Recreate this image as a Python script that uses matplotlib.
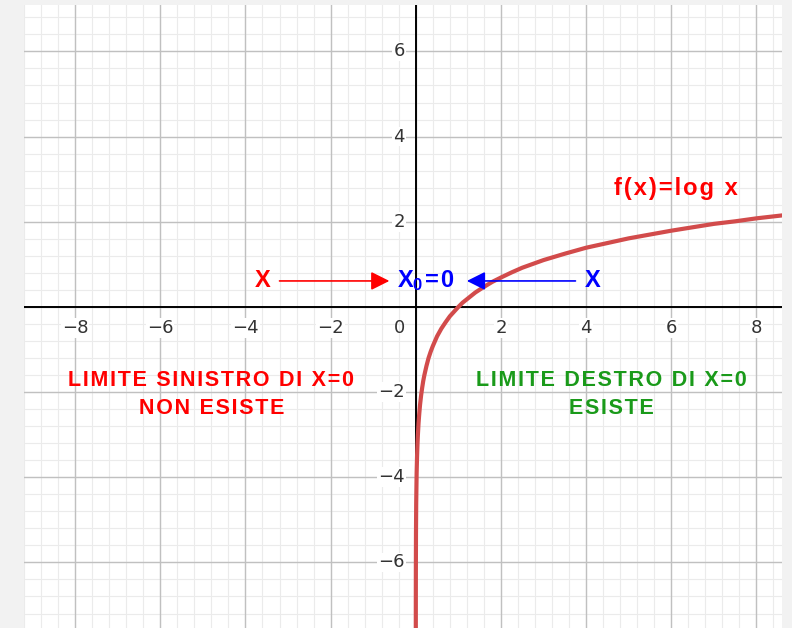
import matplotlib
matplotlib.use("Agg")
import matplotlib.pyplot as plt
import numpy as np

plt.rcParams['mathtext.fontset'] = 'custom'
plt.rcParams['mathtext.rm'] = 'Liberation Sans:bold'
plt.rcParams['mathtext.bf'] = 'Liberation Sans:bold'

# curve f(x)=log x
curve_x = [0.0005, 0.001, 0.002, 0.005, 0.01, 0.02, 0.03, 0.04, 0.05, 0.065,
           0.08, 0.1, 0.125, 0.15, 0.175, 0.2, 0.25, 0.3, 0.35, 0.4, 0.5,
           0.6, 0.7, 0.8, 0.9, 1.0, 1.1, 1.25, 1.4, 1.6, 1.8, 2.0, 2.25,
           2.5, 2.75, 3.0, 3.5, 4.0, 4.5, 5.0, 5.5, 6.0, 6.5, 7.0, 7.5,
           8.0, 8.7]
curve_y = [-7.60, -6.91, -6.21, -5.30, -4.61, -3.91, -3.51, -3.22, -3.00, -2.73,
           -2.53, -2.30, -2.08, -1.90, -1.74, -1.61, -1.39, -1.20, -1.05, -0.92, -0.69,
           -0.51, -0.36, -0.22, -0.11, 0.00, 0.10, 0.22, 0.34, 0.47, 0.59, 0.69, 0.81,
           0.92, 1.01, 1.10, 1.25, 1.39, 1.50, 1.61, 1.70, 1.79, 1.87, 1.95, 2.01,
           2.08, 2.16]

x_ticks = [-8, -6, -4, -2, 2, 4, 6, 8]
y_ticks = [-6, -4, -2, 2, 4, 6]

xmin, xmax = -9.2, 8.6
ymin, ymax = -7.54, 7.09

red = '#ff0000'
blue = '#0000ff'
green = '#1a9a1a'
curve_col = '#d24b4b'


def spaced(s):
    # a bit of letter spacing, like the original labels
    return '\u200a'.join(s)


fig = plt.figure(figsize=(7.92, 6.28), dpi=100, facecolor='#f2f2f2')
ax = fig.add_axes([24 / 792, 0, 758 / 792, 1 - 5 / 628])
ax.set_facecolor('white')
ax.set_xlim(xmin, xmax)
ax.set_ylim(ymin, ymax)
for s in ax.spines.values():
    s.set_visible(False)
ax.set_xticks([])
ax.set_yticks([])

# grid: minor every 0.4, major every 2
for v in np.arange(-10, 10.01, 0.4):
    ax.axvline(v, color='#ebebeb', lw=0.8, zorder=0)
    ax.axhline(v, color='#ebebeb', lw=0.8, zorder=0)
for v in range(-10, 11, 2):
    ax.axvline(v, color='#c0c0c0', lw=1.0, zorder=0.5)
    ax.axhline(v, color='#c0c0c0', lw=1.0, zorder=0.5)

# axes
ax.axhline(0, color='black', lw=1.4, zorder=2)
ax.axvline(0, color='black', lw=1.4, zorder=2)

tick_font = dict(fontsize=13, color='#333333', family='DejaVu Sans')
for v in x_ticks:
    ax.annotate('\u2212%d' % -v if v < 0 else str(v), (v, 0), xytext=(0, -15),
                textcoords='offset points', ha='center', va='center',
                bbox=dict(boxstyle='square,pad=0.05', fc='white', ec='none'),
                zorder=3, **tick_font)
for v in y_ticks:
    ax.annotate('\u2212%d' % -v if v < 0 else str(v), (0, v), xytext=(-8, 0),
                textcoords='offset points', ha='right', va='center',
                bbox=dict(boxstyle='square,pad=0.05', fc='white', ec='none'),
                zorder=3, **tick_font)
ax.annotate('0', (0, 0), xytext=(-8, -15), textcoords='offset points',
            ha='right', va='center', zorder=3, **tick_font)

# the curve
ax.plot(curve_x, curve_y, color=curve_col, lw=3, zorder=4, solid_capstyle='butt',
        solid_joinstyle='round')

bold = dict(fontweight='bold', family=['Liberation Sans', 'DejaVu Sans'])
ax.text(6.1, 2.79, spaced('f(x)=log x'), color=red, fontsize=17, ha='center',
        va='center', zorder=5, **bold)

# arrows towards x0
ax.annotate('', xy=(-0.62, 0.61), xytext=(-3.2, 0.61),
            arrowprops=dict(arrowstyle='-|>', color=red, lw=1.2,
                            mutation_scale=28, shrinkA=0, shrinkB=0), zorder=5)
ax.annotate('', xy=(1.2, 0.61), xytext=(3.75, 0.61),
            arrowprops=dict(arrowstyle='-|>', color=blue, lw=1.2,
                            mutation_scale=28, shrinkA=0, shrinkB=0), zorder=5)
ax.text(-3.6, 0.61, 'X', color=red, fontsize=17, ha='center', va='center',
        zorder=5, **bold)
ax.text(4.15, 0.61, 'X', color=blue, fontsize=17, ha='center', va='center',
        zorder=5, **bold)
ax.text(0.24, 0.61, '$\\mathbf{X_0}$\u200a=\u200a0', color=blue, fontsize=17,
        ha='center', va='center', zorder=5, **bold)

ax.text(-4.8, -1.73, spaced('LIMITE SINISTRO DI X=0'), color=red, fontsize=15.5,
        ha='center', va='center', zorder=5, **bold)
ax.text(-4.8, -2.38, spaced('NON ESISTE'), color=red, fontsize=15.5,
        ha='center', va='center', zorder=5, **bold)
ax.text(4.6, -1.73, spaced('LIMITE DESTRO DI X=0'), color=green, fontsize=15.5,
        ha='center', va='center', zorder=5, **bold)
ax.text(4.6, -2.38, spaced('ESISTE'), color=green, fontsize=15.5,
        ha='center', va='center', zorder=5, **bold)

fig.savefig('out.png', dpi=100, facecolor=fig.get_facecolor())
